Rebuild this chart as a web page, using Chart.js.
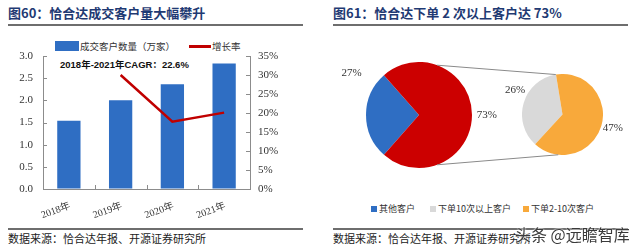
<!DOCTYPE html>
<html>
<head>
<meta charset="utf-8">
<script src="https://cdn.jsdelivr.net/npm/chart.js@4"></script>
<style>
  html,body{margin:0;padding:0;background:#fff;}
  body{width:640px;height:249px;position:relative;overflow:hidden;font-family:"Noto Sans CJK SC","Noto Sans",sans-serif;}
  .abs{position:absolute;white-space:nowrap;}
  .title{font-weight:bold;font-size:13px;color:#1F3A73;line-height:16px;}
  .rule{position:absolute;height:2px;background:#6e6e6e;}
  .src{font-size:11px;color:#222;line-height:14px;}
  .leg{font-size:9.5px;color:#333;line-height:12px;}
  .sw{position:absolute;}
  canvas{position:absolute;}
</style>
</head>
<body>
<script>
// ---------------- data ----------------
const categories = ['2018年', '2019年', '2020年', '2021年'];
const customers = [1.54, 2.00, 2.36, 2.83];        // 成交客户数量（万家）
const growth = [null, 30.0, 17.7, 20.1];           // 增长率 %
const leftTickStep = 0.5, leftMax = 3.0;
const rightTickStep = 5, rightMax = 35;
const barLabel = '成交客户数量（万家）';
const lineLabel = '增长率';
const cagrText = '2018年-2021年CAGR：22.6%';

const pieLabels = ['其他客户', '下单10次以上客户', '下单2-10次客户'];
const mainShares = [27, 73];   // 其他客户, 下单2次以上
const subShares = [26, 47];    // 下单10次以上, 下单2-10次
</script>

<div class="abs title" style="left:8px;top:5px;">图60：恰合达成交客户量大幅攀升</div>
<div class="rule" style="left:8px;top:24px;width:295px;"></div>
<div class="abs title" style="left:333px;top:5px;">图61：恰合达下单 2 次以上客户达 73%</div>
<div class="rule" style="left:333px;top:24px;width:295px;"></div>

<div class="rule" style="left:8px;top:228px;width:295px;"></div>
<div class="abs src" style="left:8px;top:231px;">数据来源：恰合达年报、开源证券研究所</div>
<div class="rule" style="left:333px;top:228px;width:295px;"></div>
<div class="abs src" style="left:333px;top:231px;">数据来源：恰合达年报、开源证券研究所</div>

<!-- left legend -->
<div class="sw" style="left:55px;top:41px;width:24px;height:10px;background:#2F6EC3;"></div>
<div class="abs leg" id="legBar" style="left:80px;top:40px;"></div>
<div class="sw" style="left:189px;top:45px;width:22px;height:2.5px;background:#C00000;"></div>
<div class="abs leg" id="legLine" style="left:212px;top:40px;"></div>
<div class="abs" id="cagr" style="left:60px;top:58px;font-weight:bold;font-size:9.5px;color:#111;line-height:13px;font-family:'Liberation Sans','Noto Sans CJK SC',sans-serif;"></div>

<!-- right legend -->
<div id="pieLegend"></div>

<canvas id="cL" width="320" height="228" style="left:0;top:0;"></canvas>
<canvas id="cBig" width="106" height="106" style="left:366px;top:62px;"></canvas>
<canvas id="cSmall" width="81" height="81" style="left:522px;top:74px;"></canvas>
<canvas id="overlay" width="640" height="249" style="left:0;top:0;pointer-events:none;"></canvas>

<div class="abs" style="left:515px;top:224px;font-size:16px;line-height:20px;color:#3a3a3a;text-shadow:0 0 2px #fff,0 0 2px #fff;">头条 @远瞻智库</div>

<script>
const BLUE = '#2F6EC3', RED_LINE = '#C00000', RED = '#CC0000', GRAY = '#D9D9D9', ORANGE = '#F8A93B';
const AXIS = '#8c8c8c';
const serif = {family: "'Liberation Serif','Noto Sans CJK SC',serif", size: 11};
const serifX = {family: "'Liberation Serif','Noto Sans CJK SC',serif", size: 10};

document.getElementById('legBar').textContent = barLabel;
document.getElementById('legLine').textContent = lineLabel;
document.getElementById('cagr').textContent = cagrText;

// pie legend
const pieColors = [BLUE, GRAY, ORANGE];
const legPos = [371, 430, 523];
const pl = document.getElementById('pieLegend');
pieLabels.forEach((t, i) => {
  const s = document.createElement('div');
  s.className = 'sw';
  s.style.cssText = `left:${legPos[i]}px;top:206px;width:6px;height:6px;background:${pieColors[i]};`;
  pl.appendChild(s);
  const d = document.createElement('div');
  d.className = 'abs leg';
  d.style.cssText = `left:${legPos[i] + 8}px;top:203px;font-size:9px;`;
  d.textContent = t;
  pl.appendChild(d);
});

// inward ticks
const inwardTicks = {
  id: 'inwardTicks',
  afterDraw(chart) {
    const {ctx, scales: {x, y, y1}} = chart;
    ctx.save();
    ctx.strokeStyle = AXIS;
    ctx.lineWidth = 1;
    ctx.beginPath();
    y.ticks.forEach(t => {
      const py = Math.round(y.getPixelForValue(t.value)) + 0.5;
      ctx.moveTo(y.right, py); ctx.lineTo(y.right + 4, py);
    });
    y1.ticks.forEach(t => {
      const py = Math.round(y1.getPixelForValue(t.value)) + 0.5;
      ctx.moveTo(y1.left, py); ctx.lineTo(y1.left - 4, py);
    });
    for (let i = 0; i < categories.length - 1; i++) {
      const px = Math.round((x.getPixelForValue(i) + x.getPixelForValue(i + 1)) / 2) + 0.5;
      ctx.moveTo(px, x.top); ctx.lineTo(px, x.top - 4);
    }
    ctx.stroke();
    ctx.restore();
  }
};

new Chart(document.getElementById('cL'), {
  type: 'bar',
  data: {
    labels: categories,
    datasets: [
      {type: 'line', label: lineLabel, data: growth, yAxisID: 'y1', borderColor: RED_LINE, borderWidth: 2.5,
       pointRadius: 0, tension: 0, order: 0, fill: false},
      {type: 'bar', label: barLabel, data: customers, yAxisID: 'y', backgroundColor: BLUE,
       barPercentage: 0.45, categoryPercentage: 1, order: 1}
    ]
  },
  options: {
    responsive: false, animation: false,
    layout: {padding: {top: 56, left: 0, right: 0, bottom: 0}},
    plugins: {legend: {display: false}, tooltip: {enabled: false}},
    scales: {
      x: {
        grid: {display: true, drawOnChartArea: false, drawTicks: false},
        border: {display: true, color: AXIS},
        ticks: {font: serifX, color: '#333', minRotation: 20, maxRotation: 20, padding: 11, labelOffset: 1},
        afterFit(s) { s.height = 39; }
      },
      y: {
        position: 'left', min: 0, max: leftMax,
        grid: {display: true, drawOnChartArea: false, drawTicks: false},
        border: {display: true, color: AXIS},
        ticks: {stepSize: leftTickStep, callback: v => Number(v).toFixed(1), font: serif, color: '#333', padding: 10},
        afterFit(s) { s.width = 43; }
      },
      y1: {
        position: 'right', min: 0, max: rightMax,
        grid: {display: true, drawOnChartArea: false, drawTicks: false},
        border: {display: true, color: AXIS},
        ticks: {stepSize: rightTickStep, callback: v => v + '%', font: serif, color: '#333', padding: 8},
        afterFit(s) { s.width = 70; }
      }
    }
  },
  plugins: [inwardTicks]
});

const pieOpts = rot => ({
  responsive: false, animation: false, rotation: rot,
  layout: {padding: 0},
  plugins: {legend: {display: false}, tooltip: {enabled: false}},
  elements: {arc: {borderWidth: 0}}
});

const bigCanvas = document.getElementById('cBig');
const smallCanvas = document.getElementById('cSmall');
const big = new Chart(bigCanvas, {
  type: 'pie',
  data: {labels: [pieLabels[0], '下单2次以上客户'], datasets: [{data: mainShares, backgroundColor: [BLUE, RED], borderWidth: 0}]},
  options: pieOpts(221.4)
});
const small = new Chart(smallCanvas, {
  type: 'pie',
  data: {labels: [pieLabels[1], pieLabels[2]], datasets: [{data: subShares, backgroundColor: [GRAY, ORANGE], borderWidth: 0}]},
  options: pieOpts(222.5)
});

// overlay: connector lines + percent labels
const ov = document.getElementById('overlay').getContext('2d');
const deg = Math.PI / 180;
function ptOnArc(chart, canvas, clockDeg, rf) {
  const a = chart.getDatasetMeta(0).data[0];
  const th = (clockDeg - 90) * deg;
  return [canvas.offsetLeft + a.x + a.outerRadius * rf * Math.cos(th),
          canvas.offsetTop + a.y + a.outerRadius * rf * Math.sin(th)];
}
ov.strokeStyle = '#8a8a8a';
ov.lineWidth = 1;
[[20, 350.5], [160, 186]].forEach(([ab, as]) => {
  const p = ptOnArc(big, bigCanvas, ab, 1.0);
  const q = ptOnArc(small, smallCanvas, as, 1.0);
  ov.beginPath(); ov.moveTo(p[0], p[1]); ov.lineTo(q[0], q[1]); ov.stroke();
});

function drawLabels(chart, canvas, values, place) {
  const meta = chart.getDatasetMeta(0);
  ov.font = "11px 'Liberation Serif', serif";
  ov.fillStyle = '#333';
  ov.textAlign = 'center';
  ov.textBaseline = 'middle';
  meta.data.forEach((arc, i) => {
    const mid = (arc.startAngle + arc.endAngle) / 2 + place[i].shift * deg;
    const r = arc.outerRadius * place[i].rf;
    const x = canvas.offsetLeft + arc.x + r * Math.cos(mid);
    const y = canvas.offsetTop + arc.y + r * Math.sin(mid);
    ov.fillText(values[i] + '%', x, y);
  });
}
drawLabels(big, bigCanvas, mainShares, [{shift: 32, rf: 1.5}, {shift: 0, rf: 1.28}]);
drawLabels(small, smallCanvas, subShares, [{shift: 11, rf: 1.32}, {shift: -1.5, rf: 1.29}]);
</script>
</body>
</html>
